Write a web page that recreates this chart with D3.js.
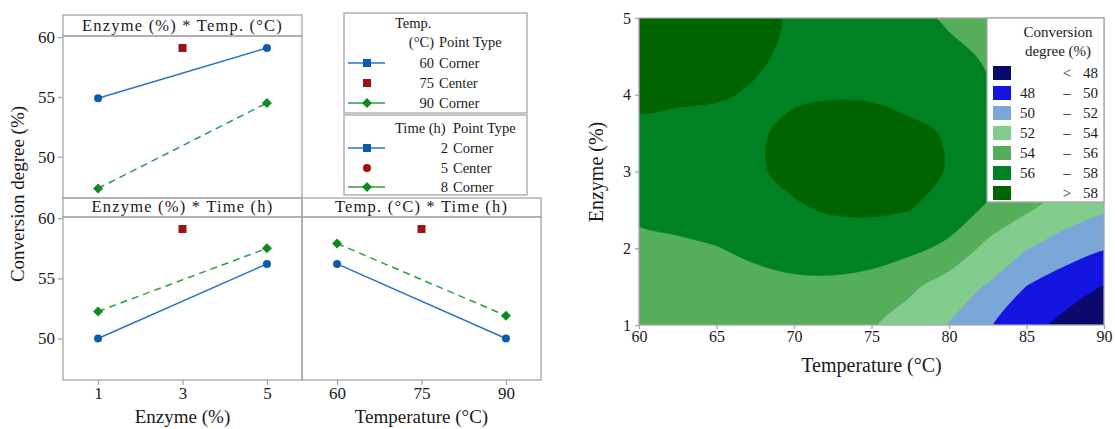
<!DOCTYPE html>
<html>
<head>
<meta charset="utf-8">
<script src="https://cdn.jsdelivr.net/npm/d3@7"></script>
<style>
  body { margin: 0; background: #fff; }
  text { font-family: "Liberation Serif", "Times New Roman", serif; fill: #1a1a1a; }
</style>
</head>
<body>
<svg id="fig" width="1115" height="429"></svg>
<script>
// ---- interaction plot data (means of conversion degree, %) ----
const enzymeLevels = [1, 5]
const tempLevels = [60, 90]
const centerEnzyme = 3
const centerTemp = 75
const centerMean = 59.1

const enzTemp60 = [54.9, 59.1]
const enzTemp90 = [47.35, 54.5]
const enzTime2 = [50.0, 56.2]
const enzTime8 = [52.25, 57.5]
const tempTime2 = [56.2, 50.0]
const tempTime8 = [57.9, 51.9]

const yTicks = [50, 55, 60]
const enzymeTicks = [1, 3, 5]
const tempTicks = [60, 75, 90]

// ---- contour plot data (time held at 5 h) ----
const gridTemps = [60, 62.5, 65, 67.5, 70, 72.5, 75, 77.5, 80, 82.5, 85, 87.5, 90]
const gridEnzymes = [5, 4.5, 4, 3.5, 3, 2.5, 2, 1.5, 1]
const conversionGrid = [
  [59.4, 59.2, 58.9, 58.4, 57.8, 57.3, 56.9, 56.4, 55.8, 55.2, 54.8, 54.5, 54.3],
  [59.3, 59.1, 58.8, 58.2, 57.7, 57.4, 57.1, 56.8, 56.35, 55.85, 55.2, 54.8, 54.5],
  [58.35, 58.3, 58.15, 57.85, 57.8, 57.9, 57.85, 57.5, 56.9, 56.15, 55.3, 54.7, 54.0],
  [57.6, 57.4, 57.4, 57.8, 58.35, 58.6, 58.6, 58.35, 57.85, 56.8, 55.7, 54.8, 53.7],
  [57.1, 57.0, 57.2, 57.75, 58.5, 58.8, 58.8, 58.55, 57.9, 57.0, 55.8, 54.6, 53.3],
  [56.3, 56.4, 56.7, 57.2, 57.75, 58.2, 58.3, 58.02, 57.0, 55.7, 54.2, 53.0, 52.2],
  [55.6, 55.8, 55.95, 56.3, 56.6, 56.7, 56.7, 56.4, 55.6, 53.4, 52.1, 51.0, 50.1],
  [55.0, 55.2, 55.35, 55.55, 55.7, 55.7, 55.4, 54.4, 52.9, 51.85, 49.95, 48.8, 47.9],
  [54.6, 54.8, 55.0, 55.1, 55.1, 54.9, 54.2, 52.9, 51.9, 50.2, 48.6, 47.5, 46.4]
]
const levels = [48, 50, 52, 54, 56, 58]
const levelColors = ["#0a0a6e", "#1414e0", "#7ba6d8", "#82cd8e", "#55ae5a", "#008224", "#006400"]
const levelLabels = [["", "<", "48"], ["48", "–", "50"], ["50", "–", "52"], ["52", "–", "54"],
                     ["54", "–", "56"], ["56", "–", "58"], ["", ">", "58"]]
const contourTempTicks = [60, 65, 70, 75, 80, 85, 90]
const contourEnzTicks = [1, 2, 3, 4, 5]

const GRAY = "#a6a6a6"
const BLUE = "#2a72c6", BLUE_M = "#0b5cad"
const GREEN = "#2b9e3e", GREEN_M = "#0d8a24"
const RED = "#9c1212"
const fmt = d3.format("d")

const svg = d3.select("#fig")

// ================= left: interaction plot =================
const LEFT = 63, MID = 302, RIGHT = 541
const TOP_H = [15, 36], TOP_P = [36, 198]
const BOT_H = [198, 217], BOT_P = [217, 380]

const yTop = d3.scaleLinear().domain([46.55, 60.1]).range([TOP_P[1], TOP_P[0]])
const yBot = d3.scaleLinear().domain([46.55, 60.1]).range([BOT_P[1], BOT_P[0]])
const xEnz = d3.scaleLinear().domain([0.17, 5.83]).range([LEFT, MID])
const xTemp = d3.scaleLinear().domain([53.775, 96.225]).range([MID, RIGHT])

function frame(x0, x1, head, plot, title) {
  svg.append("rect").attr("x", x0).attr("y", head[0]).attr("width", x1 - x0).attr("height", head[1] - head[0])
    .attr("fill", "none").attr("stroke", GRAY).attr("stroke-width", 1.3)
  svg.append("rect").attr("x", x0).attr("y", plot[0]).attr("width", x1 - x0).attr("height", plot[1] - plot[0])
    .attr("fill", "none").attr("stroke", GRAY).attr("stroke-width", 1.3)
  svg.append("text")
    .attr("x", (x0 + x1) / 2).attr("y", head[1] - 5)
    .attr("text-anchor", "middle").attr("font-size", "16.5px").attr("letter-spacing", "1.2px")
    .text(title)
}

function diamond(g, cx, cy, r, fill) {
  g.append("path")
    .attr("d", `M${cx},${cy - r}L${cx + r},${cy}L${cx},${cy + r}L${cx - r},${cy}Z`)
    .attr("fill", fill)
}

function series(x, y, xs, lo, hi, cx) {
  const g = svg.append("g")
  const line = d3.line().x((d, i) => x(xs[i])).y(d => y(d))
  g.append("path").datum(lo).attr("d", line).attr("fill", "none")
    .attr("stroke", BLUE).attr("stroke-width", 1.5)
  g.append("path").datum(hi).attr("d", line).attr("fill", "none")
    .attr("stroke", GREEN).attr("stroke-width", 1.5).attr("stroke-dasharray", "7,5")
  lo.forEach((v, i) => g.append("circle").attr("cx", x(xs[i])).attr("cy", y(v)).attr("r", 4).attr("fill", BLUE_M))
  hi.forEach((v, i) => diamond(g, x(xs[i]), y(v), 5, GREEN_M))
  g.append("rect").attr("x", x(cx) - 4).attr("y", y(centerMean) - 4)
    .attr("width", 8).attr("height", 8).attr("fill", RED)
}

frame(LEFT, MID, TOP_H, TOP_P, "Enzyme (%) * Temp. (°C)")
frame(LEFT, MID, BOT_H, BOT_P, "Enzyme (%) * Time (h)")
frame(MID, RIGHT, BOT_H, BOT_P, "Temp. (°C) * Time (h)")

series(xEnz, yTop, enzymeLevels, enzTemp60, enzTemp90, centerEnzyme)
series(xEnz, yBot, enzymeLevels, enzTime2, enzTime8, centerEnzyme)
series(xTemp, yBot, tempLevels, tempTime2, tempTime8, centerTemp)

// axes
function styleAxis(g) {
  g.select(".domain").remove()
  g.selectAll(".tick line").attr("stroke", GRAY).attr("stroke-width", 1.3)
  g.selectAll(".tick text").attr("font-family", "Liberation Serif, serif")
    .attr("font-size", "17px").attr("fill", "#1a1a1a")
}
svg.append("g").attr("transform", `translate(${LEFT},0)`)
  .call(d3.axisLeft(yTop).tickValues(yTicks).tickFormat(fmt).tickSize(5).tickPadding(3)).call(styleAxis)
svg.append("g").attr("transform", `translate(${LEFT},0)`)
  .call(d3.axisLeft(yBot).tickValues(yTicks).tickFormat(fmt).tickSize(5).tickPadding(3)).call(styleAxis)
svg.append("g").attr("transform", `translate(0,${BOT_P[1]})`)
  .call(d3.axisBottom(xEnz).tickValues(enzymeTicks).tickFormat(fmt).tickSize(5).tickPadding(2)).call(styleAxis)
svg.append("g").attr("transform", `translate(0,${BOT_P[1]})`)
  .call(d3.axisBottom(xTemp).tickValues(tempTicks).tickFormat(fmt).tickSize(5).tickPadding(2)).call(styleAxis)

svg.append("text").attr("x", xEnz(3)).attr("y", 423).attr("text-anchor", "middle")
  .attr("font-size", "19px").text("Enzyme (%)")
svg.append("text").attr("x", xTemp(75)).attr("y", 423).attr("text-anchor", "middle")
  .attr("font-size", "19px").text("Temperature (°C)")
svg.append("text").attr("transform", "translate(24,194) rotate(-90)").attr("text-anchor", "middle")
  .attr("font-size", "19px").text("Conversion degree (%)")

// legends
function legendBox(y0, y1, headLines, rows, numX, wordX) {
  svg.append("rect").attr("x", 344).attr("y", y0).attr("width", 183).attr("height", y1 - y0)
    .attr("fill", "none").attr("stroke", GRAY).attr("stroke-width", 1.3)
  headLines.forEach(h => svg.append("text").attr("x", h.x).attr("y", h.y)
    .attr("text-anchor", h.anchor || "start").attr("font-size", "14.5px").text(h.t))
  rows.forEach(r => {
    if (r.line) {
      svg.append("line").attr("x1", 348).attr("x2", 385).attr("y1", r.y).attr("y2", r.y)
        .attr("stroke", r.line).attr("stroke-width", 1.5)
    }
    if (r.mark === "circle") svg.append("circle").attr("cx", 367).attr("cy", r.y).attr("r", 4).attr("fill", r.fill)
    if (r.mark === "square") svg.append("rect").attr("x", 363).attr("y", r.y - 4).attr("width", 8).attr("height", 8).attr("fill", r.fill)
    if (r.mark === "diamond") diamond(svg, 367, r.y, 5, r.fill)
    svg.append("text").attr("x", numX).attr("y", r.y + 5).attr("text-anchor", "end")
      .attr("font-size", "14.5px").text(r.n)
    svg.append("text").attr("x", wordX).attr("y", r.y + 5).attr("font-size", "14.5px").text(r.w)
  })
}

legendBox(13, 113,
  [{t: "Temp.", x: 395, y: 28}, {t: "(°C)", x: 434, y: 47, anchor: "end"}, {t: "Point Type", x: 439, y: 47}],
  [{y: 63, n: tempLevels[0], w: "Corner", line: BLUE, mark: "square", fill: BLUE_M},
   {y: 83, n: centerTemp, w: "Center", mark: "square", fill: RED},
   {y: 103, n: tempLevels[1], w: "Corner", line: GREEN, mark: "diamond", fill: GREEN_M}],
  434, 439)

legendBox(115, 195,
  [{t: "Time (h)", x: 395, y: 133}, {t: "Point Type", x: 453, y: 133}],
  [{y: 148, n: 2, w: "Corner", line: BLUE, mark: "square", fill: BLUE_M},
   {y: 168, n: 5, w: "Center", mark: "circle", fill: RED},
   {y: 187, n: 8, w: "Corner", line: GREEN, mark: "diamond", fill: GREEN_M}],
  448, 453)

// ================= right: contour plot =================
const cx = d3.scaleLinear().domain([60, 90]).range([639, 1104])
const cy = d3.scaleLinear().domain([1, 5]).range([325, 18])

const nCols = gridTemps.length, nRows = gridEnzymes.length
const values = conversionGrid.flat()
const gx = d3.scaleLinear().domain([0.5, nCols - 0.5]).range([cx(gridTemps[0]), cx(gridTemps[nCols - 1])])
const gy = d3.scaleLinear().domain([0.5, nRows - 0.5]).range([cy(gridEnzymes[0]), cy(gridEnzymes[nRows - 1])])

svg.append("clipPath").attr("id", "plotClip")
  .append("rect").attr("x", cx(60)).attr("y", cy(5)).attr("width", cx(90) - cx(60)).attr("height", cy(1) - cy(5))

const cg = svg.append("g").attr("clip-path", "url(#plotClip)")
cg.append("rect").attr("x", cx(60)).attr("y", cy(5)).attr("width", cx(90) - cx(60)).attr("height", cy(1) - cy(5))
  .attr("fill", levelColors[0])

const contours = d3.contours().size([nCols, nRows]).thresholds(levels)(values)
const ringLine = d3.line().curve(d3.curveCatmullRomClosed.alpha(0.5))

cg.selectAll("path.band")
  .data(contours)
  .enter().append("path")
  .attr("class", "band")
  .attr("fill", (d, i) => levelColors[i + 1])
  .attr("stroke", (d, i) => levelColors[i + 1])
  .attr("stroke-width", 0.5)
  .attr("d", d => d.coordinates.map(poly => poly.map(ring => {
      const pts = ring.slice(0, -1).map(p => [gx(p[0]), gy(p[1])])
      return ringLine(pts)
    }).join("")).join(""))

// frame + axes
svg.append("rect").attr("x", cx(60)).attr("y", cy(5)).attr("width", cx(90) - cx(60)).attr("height", cy(1) - cy(5))
  .attr("fill", "none").attr("stroke", GRAY).attr("stroke-width", 1.3)

function styleAxis2(g) {
  g.select(".domain").remove()
  g.selectAll(".tick line").attr("stroke", GRAY).attr("stroke-width", 1.3)
  g.selectAll(".tick text").attr("font-family", "DejaVu Sans, sans-serif")
    .attr("font-size", "16px").attr("fill", "#1a1a1a")
}
svg.append("g").attr("transform", `translate(0,${cy(1)})`)
  .call(d3.axisBottom(cx).tickValues(contourTempTicks).tickFormat(fmt).tickSize(4).tickPadding(2)).call(styleAxis2)
svg.append("g").attr("transform", `translate(${cx(60)},0)`)
  .call(d3.axisLeft(cy).tickValues(contourEnzTicks).tickFormat(fmt).tickSize(4).tickPadding(4)).call(styleAxis2)

svg.append("text").attr("x", cx(75)).attr("y", 372).attr("text-anchor", "middle")
  .attr("font-size", "20px").text("Temperature (°C)")
svg.append("text").attr("transform", "translate(603,172) rotate(-90)").attr("text-anchor", "middle")
  .attr("font-size", "20px").text("Enzyme (%)")

// contour legend
const lg = svg.append("g")
lg.append("rect").attr("x", 987).attr("y", 18).attr("width", 117).attr("height", 184)
  .attr("fill", "#fff").attr("stroke", GRAY).attr("stroke-width", 1.3)
lg.append("text").attr("x", 1058).attr("y", 37).attr("text-anchor", "middle").attr("font-size", "15px").text("Conversion")
lg.append("text").attr("x", 1058).attr("y", 56).attr("text-anchor", "middle").attr("font-size", "15px").text("degree (%)")
levelLabels.forEach((lab, i) => {
  const yc = 73 + i * 20
  lg.append("rect").attr("x", 993).attr("y", yc - 7).attr("width", 18).attr("height", 14).attr("fill", levelColors[i])
  lg.append("text").attr("x", 1020).attr("y", yc + 5).attr("font-size", "15px").text(lab[0])
  lg.append("text").attr("x", 1067).attr("y", yc + 5).attr("text-anchor", "middle").attr("font-size", "15px").text(lab[1])
  lg.append("text").attr("x", 1098).attr("y", yc + 5).attr("text-anchor", "end").attr("font-size", "15px").text(lab[2])
})
</script>
</body>
</html>
